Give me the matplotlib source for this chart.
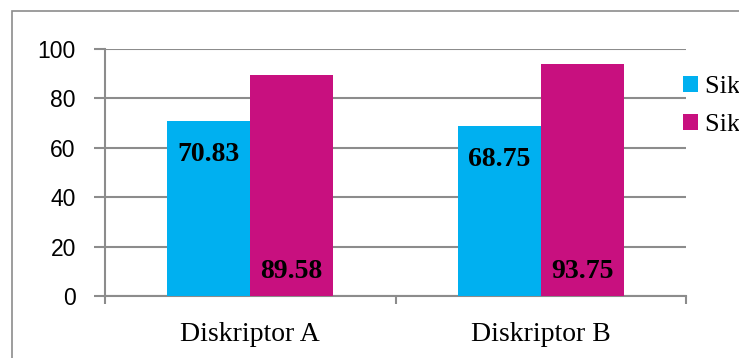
import matplotlib
matplotlib.use('Agg')
import matplotlib.pyplot as plt
from matplotlib.patches import Rectangle

# data
categories = ['Diskriptor A', 'Diskriptor B']
series_names = ['Siklus I', 'Siklus II']
siklus1 = [70.83, 68.75]
siklus2 = [89.58, 93.75]
colors = ['#00B0F0', '#C8107F']

W, H = 739, 358
fig = plt.figure(figsize=(W / 100, H / 100), dpi=100)

# outer chart border (runs off the right and bottom edge)
fig.patches.append(Rectangle((12 / W, -0.1), 1.2, 1 - 11 / H + 0.1,
                             transform=fig.transFigure, fill=False,
                             edgecolor='#8c8c8c', linewidth=1.2))

ax = fig.add_axes([105 / W, 62 / H, (686 - 105) / W, 247 / H])

x = list(range(len(categories)))
bw = 0.285
off = 0.1425
b1 = ax.bar([i - off for i in x], siklus1, bw, color=colors[0], label=series_names[0], zorder=3)
b2 = ax.bar([i + off for i in x], siklus2, bw, color=colors[1], label=series_names[1], zorder=3)

ax.set_xlim(-0.5, len(categories) - 0.5)
ax.set_ylim(0, 100)
ax.set_yticks(range(0, 101, 20))
ax.yaxis.grid(True, color='#8c8c8c', linewidth=1.5, zorder=0)

for s in ['top', 'right']:
    ax.spines[s].set_visible(False)
for s in ['left', 'bottom']:
    ax.spines[s].set_color('#8c8c8c')
    ax.spines[s].set_linewidth(1.5)

ax.tick_params(axis='y', length=8, width=1.5, color='#8c8c8c', pad=13,
               labelsize=16.5)
for t in ax.get_yticklabels():
    t.set_fontfamily('Liberation Sans')

ax.set_xticks(x)
ax.set_xticklabels(categories, fontfamily='Liberation Serif', fontsize=20)
ax.set_xticks([-0.5, 0.5, 1.5], minor=True)
ax.tick_params(axis='x', which='major', length=0, pad=19)
ax.tick_params(axis='x', which='minor', length=6, width=1.5, color='#8c8c8c')

# data labels: Siklus I near the bar top, Siklus II near the base
for rect, v in zip(b1, siklus1):
    ax.annotate(f'{v:.2f}', (rect.get_x() + rect.get_width() / 2, v),
                xytext=(0, -24), textcoords='offset points',
                ha='center', va='center', fontsize=20, fontweight='bold',
                fontfamily='Liberation Serif', zorder=4)
for rect, v in zip(b2, siklus2):
    ax.annotate(f'{v:.2f}', (rect.get_x() + rect.get_width() / 2, 0),
                xytext=(0, 18), textcoords='offset points',
                ha='center', va='center', fontsize=20, fontweight='bold',
                fontfamily='Liberation Serif', zorder=4)

fig.legend(loc='center left', bbox_to_anchor=(683 / W, 1 - 106 / H),
           frameon=False, borderpad=0, borderaxespad=0,
           handlelength=0.55, handleheight=0.55, handletextpad=0.3,
           labelspacing=0.6, prop={'family': 'Liberation Serif', 'size': 19})

fig.savefig('out.png', dpi=100)
